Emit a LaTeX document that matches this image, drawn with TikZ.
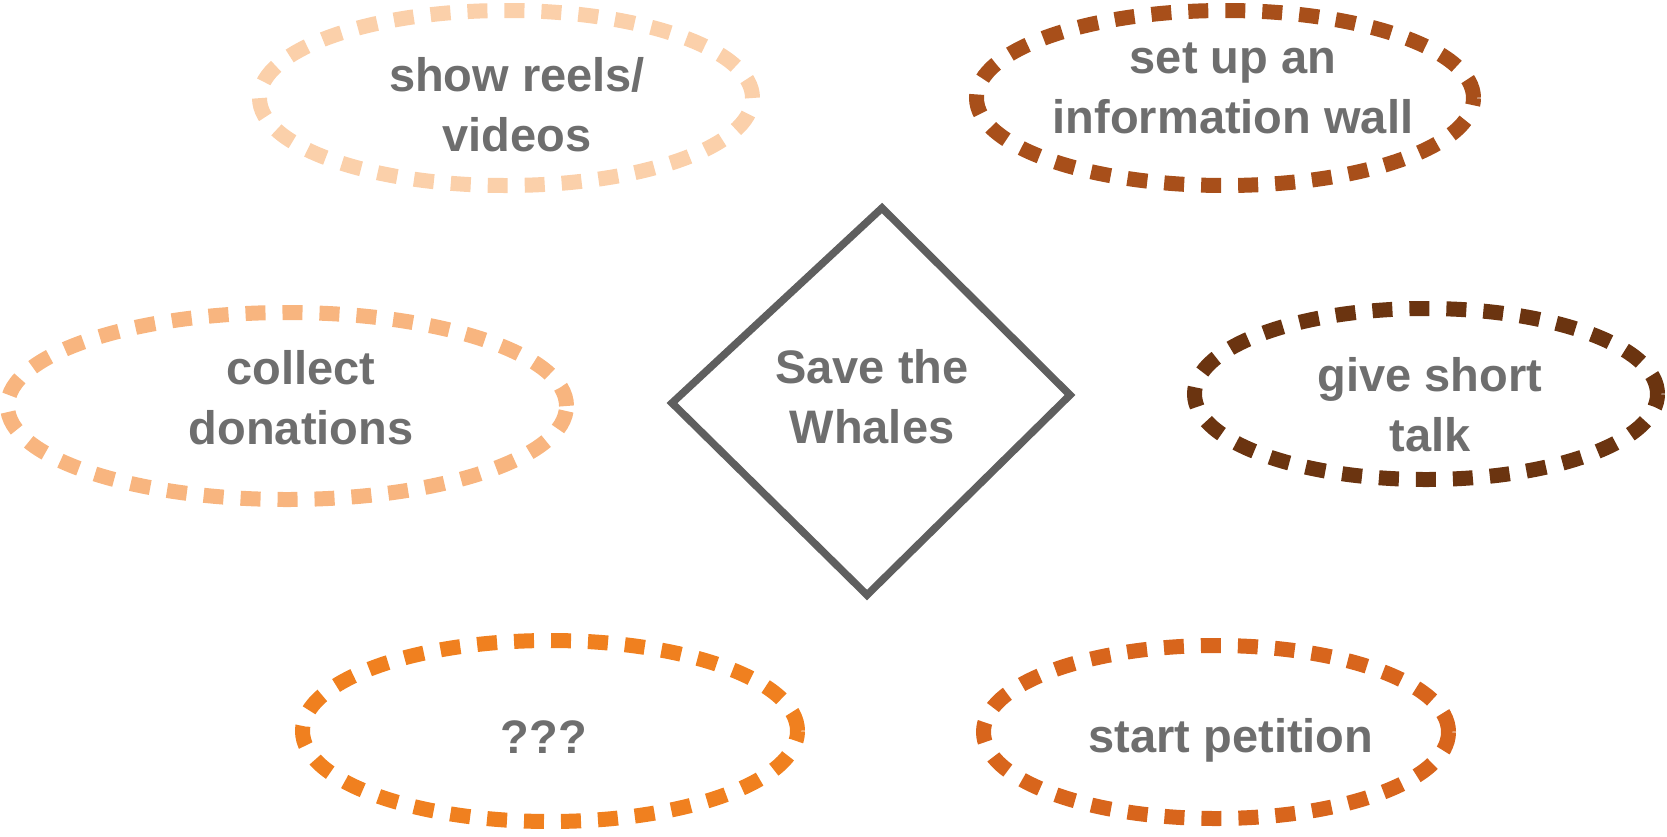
\documentclass[tikz,border=0pt]{standalone}
\usepackage{fontspec}
\setmainfont{Liberation Sans}
\usetikzlibrary{shapes.geometric}
\definecolor{txt}{HTML}{6E6E6E}
\definecolor{dia}{HTML}{5F5F5F}
\definecolor{cA}{HTML}{FBD0AA}
\definecolor{cB}{HTML}{F8B57F}
\definecolor{cC}{HTML}{F0801F}
\definecolor{cD}{HTML}{D8651C}
\definecolor{cE}{HTML}{A84F1A}
\definecolor{cF}{HTML}{6B3410}
\tikzset{
  idea/.style={ellipse, draw=#1, line width=15pt, dash pattern=on 20pt off 17pt,
    inner sep=0pt},
  label/.style={align=center, text=txt, inner sep=0pt,
    font=\fontsize{47}{60}\selectfont\bfseries}
}
\begin{document}
\begin{tikzpicture}[x=1pt,y=-1pt]
\useasboundingbox (0,0) rectangle (1667,836);
% ellipses
\node[idea=cA, minimum width=493pt, minimum height=175pt] (reels) at (506,98) {};
\node[idea=cE, minimum width=497pt, minimum height=175pt] (wall) at (1225,98) {};
\node[idea=cB, minimum width=559pt, minimum height=187pt] (don) at (287,406) {};
\node[idea=cF, minimum width=463pt, minimum height=171pt] (talk) at (1426,394) {};
\node[idea=cC, minimum width=495pt, minimum height=181pt] (q) at (550,731) {};
\node[idea=cD, minimum width=465pt, minimum height=173pt] (pet) at (1216,732) {};
% texts
\node[label] (reelsT) at (517,105) {show reels/\\videos};
\node[label] (wallT) at (1233,88) {set up an\\information wall};
\node[label] (donT) at (301,398) {collect\\donations};
\node[label] (talkT) at (1430,405) {give short\\talk};
\node[label] (qT) at (544,737) {???};
\node[label] (petT) at (1231,740) {start petition};
% diamond
\coordinate (dt) at (882,208);
\coordinate (dr) at (1070,395);
\coordinate (db) at (867,595);
\coordinate (dl) at (672,403);
\draw[dia, line width=7.5pt, line join=miter] (dt) -- (dr) -- (db) -- (dl) -- cycle;
\node[label] (save) at (872,397) {Save the\\Whales};
\end{tikzpicture}
\end{document}
